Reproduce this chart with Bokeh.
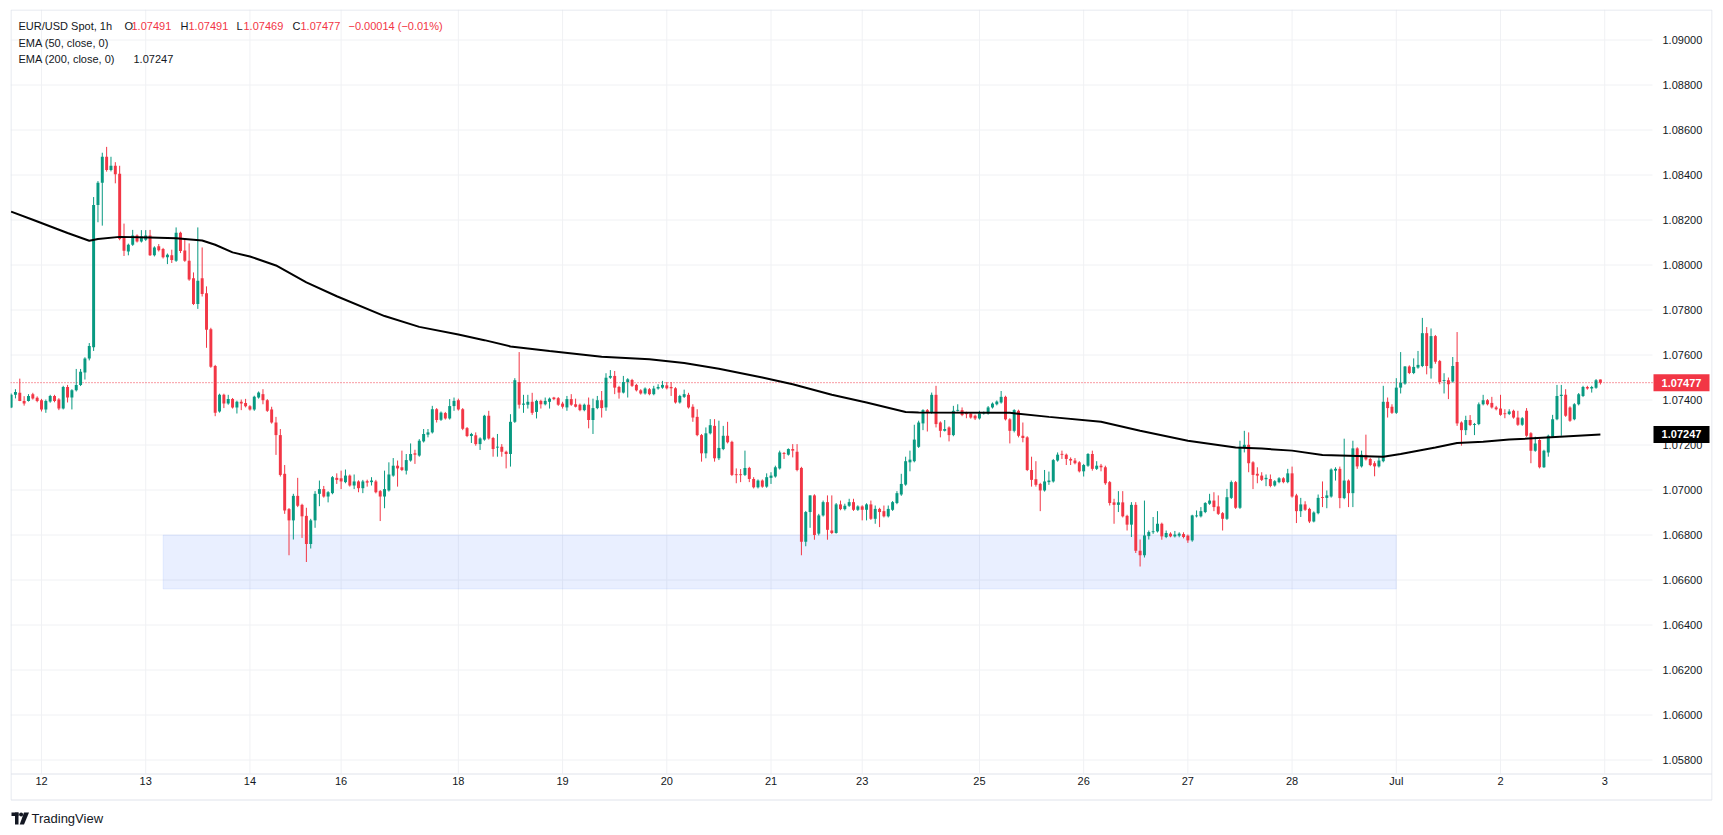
from bokeh.plotting import figure
from bokeh.models import Label, Range1d, ColumnDataSource
from bokeh.core.properties import value
from bokeh.embed import file_html
from bokeh.resources import INLINE

# ---------------- data (EUR/USD 1h candles: open, high, low, close) ----------------
jun11 = [
(1.07367, 1.07429, 1.07364, 1.07423), (1.07423, 1.07448, 1.07407, 1.07436),
(1.07432, 1.07495, 1.07395, 1.07396), (1.07396, 1.07417, 1.07375, 1.07385),
(1.07396, 1.07426, 1.07393, 1.07418), (1.07426, 1.07432, 1.07402, 1.07407),
(1.07410, 1.07416, 1.07390, 1.07396)]
jun12 = [
(1.07399, 1.07405, 1.07349, 1.07358), (1.07358, 1.07402, 1.07343, 1.07396),
(1.07393, 1.07423, 1.07388, 1.07418), (1.07418, 1.07423, 1.07390, 1.07396),
(1.07402, 1.07408, 1.07355, 1.07362), (1.07362, 1.07463, 1.07358, 1.07458),
(1.07458, 1.07467, 1.07389, 1.07411), (1.07411, 1.07448, 1.07358, 1.07443),
(1.07443, 1.07538, 1.07438, 1.07467), (1.07467, 1.07538, 1.07462, 1.07526),
(1.07522, 1.07590, 1.07491, 1.07585), (1.07585, 1.07653, 1.07576, 1.07640),
(1.07635, 1.08302, 1.07618, 1.08267), (1.08267, 1.08373, 1.08190, 1.08366),
(1.08366, 1.08499, 1.08175, 1.08481), (1.08481, 1.08525, 1.08415, 1.08422),
(1.08422, 1.08481, 1.08416, 1.08441), (1.08441, 1.08457, 1.08363, 1.08403),
(1.08406, 1.08441, 1.08110, 1.08116), (1.08122, 1.08184, 1.08040, 1.08063),
(1.08060, 1.08095, 1.08043, 1.08090), (1.08090, 1.08156, 1.08085, 1.08131),
(1.08131, 1.08136, 1.08100, 1.08105), (1.08105, 1.08155, 1.08100, 1.08127)]
jun13 = [
(1.08112, 1.08155, 1.08107, 1.08131), (1.08131, 1.08156, 1.08040, 1.08043),
(1.08043, 1.08083, 1.08038, 1.08078), (1.08083, 1.08093, 1.08060, 1.08066),
(1.08071, 1.08076, 1.08029, 1.08034), (1.08034, 1.08051, 1.08004, 1.08046),
(1.08043, 1.08068, 1.08009, 1.08022), (1.08019, 1.08167, 1.08014, 1.08143),
(1.08143, 1.08148, 1.08053, 1.08062), (1.08065, 1.08115, 1.08014, 1.08019),
(1.08019, 1.08096, 1.07930, 1.07936), (1.07941, 1.07967, 1.07822, 1.07827),
(1.07827, 1.08167, 1.07805, 1.07930), (1.07941, 1.08078, 1.07860, 1.07871),
(1.07874, 1.07905, 1.07632, 1.07712), (1.07715, 1.07721, 1.07543, 1.07548),
(1.07551, 1.07556, 1.07328, 1.07343), (1.07349, 1.07428, 1.07344, 1.07423),
(1.07423, 1.07428, 1.07364, 1.07384), (1.07384, 1.07423, 1.07379, 1.07404),
(1.07404, 1.07409, 1.07362, 1.07367), (1.07367, 1.07397, 1.07340, 1.07392),
(1.07392, 1.07402, 1.07355, 1.07384), (1.07387, 1.07405, 1.07367, 1.07372)]
jun14 = [
(1.07372, 1.07377, 1.07353, 1.07358), (1.07358, 1.07419, 1.07352, 1.07414),
(1.07411, 1.07438, 1.07406, 1.07433), (1.07426, 1.07448, 1.07381, 1.07399),
(1.07399, 1.07404, 1.07347, 1.07352), (1.07358, 1.07370, 1.07295, 1.07300),
(1.07300, 1.07325, 1.07156, 1.07244), (1.07244, 1.07271, 1.07060, 1.07067),
(1.07072, 1.07111, 1.06894, 1.06909), (1.06915, 1.06920, 1.06710, 1.06865),
(1.06865, 1.06983, 1.06780, 1.06974), (1.06974, 1.07054, 1.06924, 1.06930),
(1.06934, 1.06939, 1.06787, 1.06883), (1.06885, 1.06921, 1.06680, 1.06760),
(1.06760, 1.06872, 1.06740, 1.06865), (1.06865, 1.06995, 1.06832, 1.06983),
(1.06983, 1.07042, 1.06928, 1.07004), (1.07004, 1.07018, 1.06966, 1.06971),
(1.06971, 1.06995, 1.06945, 1.06990), (1.06986, 1.07062, 1.06981, 1.07057),
(1.07054, 1.07074, 1.07027, 1.07045)]
jun16 = [
(1.07052, 1.07086, 1.07004, 1.07038), (1.07035, 1.07091, 1.07030, 1.07064),
(1.07064, 1.07069, 1.07015, 1.07020)]
jun17 = [
(1.07020, 1.07069, 1.07004, 1.07038), (1.07038, 1.07043, 1.06990, 1.07008),
(1.07008, 1.07045, 1.06986, 1.07038), (1.07039, 1.07046, 1.07015, 1.07033),
(1.07035, 1.07057, 1.07020, 1.07042), (1.07038, 1.07045, 1.06985, 1.06990),
(1.06995, 1.07000, 1.06862, 1.06971), (1.06971, 1.07086, 1.06919, 1.07004),
(1.06998, 1.07123, 1.06993, 1.07069), (1.07064, 1.07142, 1.07059, 1.07108),
(1.07108, 1.07131, 1.07015, 1.07096), (1.07101, 1.07175, 1.07084, 1.07089),
(1.07086, 1.07160, 1.07069, 1.07133), (1.07131, 1.07207, 1.07126, 1.07160),
(1.07163, 1.07179, 1.07116, 1.07157), (1.07153, 1.07226, 1.07148, 1.07219),
(1.07216, 1.07271, 1.07211, 1.07249), (1.07246, 1.07271, 1.07234, 1.07256),
(1.07256, 1.07374, 1.07251, 1.07359), (1.07359, 1.07364, 1.07300, 1.07311),
(1.07312, 1.07349, 1.07307, 1.07344), (1.07342, 1.07347, 1.07313, 1.07318),
(1.07318, 1.07404, 1.07313, 1.07373), (1.07373, 1.07411, 1.07352, 1.07396)]
jun18 = [
(1.07399, 1.07406, 1.07353, 1.07358), (1.07359, 1.07364, 1.07266, 1.07272),
(1.07275, 1.07280, 1.07235, 1.07240), (1.07240, 1.07254, 1.07209, 1.07249),
(1.07243, 1.07256, 1.07197, 1.07204), (1.07204, 1.07234, 1.07178, 1.07229),
(1.07224, 1.07334, 1.07219, 1.07330), (1.07330, 1.07352, 1.07224, 1.07229),
(1.07231, 1.07236, 1.07148, 1.07182), (1.07189, 1.07249, 1.07148, 1.07192),
(1.07192, 1.07204, 1.07148, 1.07170), (1.07170, 1.07175, 1.07096, 1.07160),
(1.07160, 1.07337, 1.07104, 1.07303), (1.07303, 1.07497, 1.07298, 1.07488),
(1.07480, 1.07613, 1.07362, 1.07379), (1.07379, 1.07423, 1.07343, 1.07384),
(1.07379, 1.07423, 1.07362, 1.07392), (1.07392, 1.07432, 1.07334, 1.07343),
(1.07347, 1.07401, 1.07318, 1.07396), (1.07396, 1.07401, 1.07362, 1.07381),
(1.07381, 1.07411, 1.07376, 1.07396), (1.07392, 1.07411, 1.07362, 1.07406),
(1.07411, 1.07414, 1.07399, 1.07404), (1.07408, 1.07413, 1.07374, 1.07379)]
jun19 = [
(1.07384, 1.07392, 1.07362, 1.07370), (1.07367, 1.07418, 1.07352, 1.07404),
(1.07404, 1.07426, 1.07374, 1.07379), (1.07381, 1.07406, 1.07367, 1.07370),
(1.07379, 1.07384, 1.07350, 1.07355), (1.07355, 1.07384, 1.07350, 1.07379),
(1.07379, 1.07411, 1.07274, 1.07311), (1.07311, 1.07406, 1.07249, 1.07364),
(1.07364, 1.07418, 1.07359, 1.07399), (1.07399, 1.07440, 1.07322, 1.07364),
(1.07367, 1.07519, 1.07352, 1.07499), (1.07499, 1.07533, 1.07494, 1.07507),
(1.07507, 1.07529, 1.07426, 1.07455), (1.07458, 1.07463, 1.07406, 1.07433),
(1.07433, 1.07507, 1.07429, 1.07480), (1.07480, 1.07497, 1.07411, 1.07492),
(1.07489, 1.07494, 1.07458, 1.07463), (1.07467, 1.07472, 1.07438, 1.07443),
(1.07443, 1.07448, 1.07424, 1.07429), (1.07429, 1.07456, 1.07424, 1.07451),
(1.07448, 1.07453, 1.07421, 1.07426), (1.07426, 1.07463, 1.07421, 1.07451),
(1.07451, 1.07470, 1.07446, 1.07458), (1.07455, 1.07485, 1.07450, 1.07467)]
jun20 = [
(1.07465, 1.07480, 1.07447, 1.07452), (1.07458, 1.07480, 1.07418, 1.07452),
(1.07452, 1.07457, 1.07384, 1.07389), (1.07389, 1.07423, 1.07384, 1.07418),
(1.07414, 1.07446, 1.07409, 1.07426), (1.07423, 1.07432, 1.07362, 1.07367),
(1.07370, 1.07381, 1.07303, 1.07322), (1.07325, 1.07359, 1.07239, 1.07244),
(1.07244, 1.07249, 1.07126, 1.07163), (1.07163, 1.07278, 1.07141, 1.07252),
(1.07252, 1.07315, 1.07247, 1.07288), (1.07285, 1.07315, 1.07126, 1.07141),
(1.07141, 1.07308, 1.07133, 1.07187), (1.07182, 1.07285, 1.07177, 1.07241),
(1.07241, 1.07303, 1.07207, 1.07212), (1.07214, 1.07219, 1.07062, 1.07067),
(1.07069, 1.07096, 1.07030, 1.07067), (1.07069, 1.07093, 1.07035, 1.07067),
(1.07067, 1.07175, 1.07062, 1.07098), (1.07098, 1.07103, 1.07035, 1.07049),
(1.07049, 1.07057, 1.07007, 1.07012), (1.07012, 1.07047, 1.07007, 1.07042),
(1.07042, 1.07047, 1.07010, 1.07015), (1.07015, 1.07074, 1.07010, 1.07057)]
jun21 = [
(1.07054, 1.07079, 1.07027, 1.07064), (1.07060, 1.07108, 1.07055, 1.07101),
(1.07096, 1.07175, 1.07091, 1.07167), (1.07164, 1.07169, 1.07138, 1.07160),
(1.07157, 1.07185, 1.07153, 1.07182), (1.07182, 1.07204, 1.07145, 1.07175),
(1.07170, 1.07204, 1.07083, 1.07089), (1.07098, 1.07103, 1.06710, 1.06770),
(1.06770, 1.06907, 1.06750, 1.06902), (1.06902, 1.06976, 1.06832, 1.06976),
(1.06976, 1.06981, 1.06779, 1.06800), (1.06806, 1.06894, 1.06798, 1.06887),
(1.06887, 1.06953, 1.06882, 1.06946), (1.06946, 1.06976, 1.06779, 1.06823),
(1.06820, 1.06976, 1.06804, 1.06809), (1.06809, 1.06942, 1.06806, 1.06936),
(1.06936, 1.06953, 1.06910, 1.06915), (1.06915, 1.06939, 1.06909, 1.06930),
(1.06930, 1.06961, 1.06925, 1.06946), (1.06946, 1.06961, 1.06907, 1.06912),
(1.06912, 1.06932, 1.06907, 1.06927)]
jun23 = [
(1.06927, 1.06932, 1.06865, 1.06912), (1.06912, 1.06941, 1.06865, 1.06936),
(1.06936, 1.06953, 1.06867, 1.06872)]
jun24 = [
(1.06872, 1.06931, 1.06850, 1.06916), (1.06916, 1.06921, 1.06835, 1.06902),
(1.06906, 1.06931, 1.06878, 1.06883), (1.06883, 1.06931, 1.06878, 1.06916),
(1.06912, 1.06951, 1.06907, 1.06946), (1.06942, 1.06995, 1.06937, 1.06986),
(1.06980, 1.07072, 1.06974, 1.07027), (1.07024, 1.07148, 1.07019, 1.07128),
(1.07123, 1.07175, 1.07083, 1.07135), (1.07128, 1.07290, 1.07123, 1.07224),
(1.07192, 1.07308, 1.07187, 1.07300), (1.07296, 1.07359, 1.07266, 1.07355),
(1.07355, 1.07360, 1.07260, 1.07344), (1.07344, 1.07433, 1.07339, 1.07423),
(1.07423, 1.07463, 1.07278, 1.07293), (1.07300, 1.07305, 1.07234, 1.07263),
(1.07263, 1.07311, 1.07260, 1.07271), (1.07278, 1.07283, 1.07216, 1.07244),
(1.07244, 1.07374, 1.07239, 1.07352), (1.07352, 1.07381, 1.07349, 1.07356),
(1.07355, 1.07367, 1.07328, 1.07333), (1.07343, 1.07348, 1.07319, 1.07337),
(1.07340, 1.07344, 1.07317, 1.07322), (1.07330, 1.07335, 1.07311, 1.07318)]
jun25 = [
(1.07318, 1.07352, 1.07313, 1.07340), (1.07340, 1.07349, 1.07335, 1.07344),
(1.07340, 1.07373, 1.07335, 1.07367), (1.07367, 1.07389, 1.07362, 1.07384),
(1.07381, 1.07398, 1.07376, 1.07393), (1.07389, 1.07440, 1.07384, 1.07414),
(1.07414, 1.07419, 1.07309, 1.07314), (1.07314, 1.07319, 1.07207, 1.07263),
(1.07263, 1.07359, 1.07256, 1.07355), (1.07352, 1.07357, 1.07234, 1.07241),
(1.07241, 1.07300, 1.07212, 1.07231), (1.07234, 1.07239, 1.07084, 1.07089),
(1.07089, 1.07148, 1.07015, 1.07045), (1.07048, 1.07128, 1.07015, 1.07023),
(1.07027, 1.07032, 1.06906, 1.06998), (1.06998, 1.07089, 1.06993, 1.07038),
(1.07035, 1.07082, 1.07023, 1.07042), (1.07038, 1.07138, 1.07033, 1.07133),
(1.07131, 1.07167, 1.07126, 1.07157), (1.07160, 1.07175, 1.07138, 1.07157),
(1.07157, 1.07162, 1.07111, 1.07138), (1.07138, 1.07145, 1.07111, 1.07131),
(1.07131, 1.07142, 1.07114, 1.07119), (1.07123, 1.07128, 1.07078, 1.07083)]
jun26 = [
(1.07083, 1.07116, 1.07060, 1.07111), (1.07108, 1.07164, 1.07103, 1.07160),
(1.07160, 1.07175, 1.07086, 1.07094), (1.07094, 1.07128, 1.07089, 1.07108),
(1.07108, 1.07116, 1.07083, 1.07101), (1.07101, 1.07108, 1.07023, 1.07030),
(1.07035, 1.07040, 1.06931, 1.06942), (1.06945, 1.06961, 1.06850, 1.06934),
(1.06934, 1.06995, 1.06902, 1.06945), (1.06945, 1.06995, 1.06878, 1.06883),
(1.06885, 1.06890, 1.06820, 1.06846), (1.06846, 1.06946, 1.06791, 1.06934),
(1.06934, 1.06946, 1.06720, 1.06730), (1.06730, 1.06780, 1.06660, 1.06710),
(1.06710, 1.06953, 1.06700, 1.06798), (1.06795, 1.06820, 1.06780, 1.06813),
(1.06813, 1.06880, 1.06805, 1.06816), (1.06816, 1.06906, 1.06811, 1.06850),
(1.06850, 1.06855, 1.06779, 1.06794), (1.06791, 1.06820, 1.06786, 1.06809),
(1.06806, 1.06812, 1.06790, 1.06794), (1.06794, 1.06818, 1.06789, 1.06802),
(1.06797, 1.06812, 1.06790, 1.06806), (1.06804, 1.06812, 1.06785, 1.06791)]
jun27 = [
(1.06797, 1.06802, 1.06765, 1.06776), (1.06776, 1.06890, 1.06770, 1.06887),
(1.06883, 1.06909, 1.06878, 1.06887), (1.06883, 1.06924, 1.06878, 1.06906),
(1.06902, 1.06946, 1.06897, 1.06942), (1.06939, 1.06983, 1.06934, 1.06953),
(1.06953, 1.06990, 1.06906, 1.06924), (1.06927, 1.06976, 1.06889, 1.06894),
(1.06897, 1.06902, 1.06820, 1.06872), (1.06872, 1.07005, 1.06867, 1.06968),
(1.06965, 1.07042, 1.06960, 1.07035), (1.07035, 1.07040, 1.06916, 1.06921),
(1.06921, 1.07219, 1.06916, 1.07192), (1.07189, 1.07263, 1.07167, 1.07201),
(1.07201, 1.07256, 1.07079, 1.07119), (1.07123, 1.07128, 1.07004, 1.07067),
(1.07072, 1.07101, 1.07030, 1.07064), (1.07064, 1.07079, 1.07040, 1.07045),
(1.07048, 1.07069, 1.07017, 1.07054), (1.07049, 1.07069, 1.07012, 1.07018),
(1.07020, 1.07044, 1.07015, 1.07039), (1.07035, 1.07057, 1.07030, 1.07052),
(1.07052, 1.07057, 1.07030, 1.07035), (1.07035, 1.07094, 1.07030, 1.07074)]
jun28 = [
(1.07074, 1.07104, 1.06966, 1.06971), (1.06976, 1.06983, 1.06853, 1.06906),
(1.06906, 1.06965, 1.06880, 1.06936), (1.06936, 1.06950, 1.06907, 1.06912),
(1.06916, 1.06921, 1.06853, 1.06860), (1.06860, 1.06905, 1.06856, 1.06900),
(1.06897, 1.06980, 1.06892, 1.06965), (1.06968, 1.07038, 1.06924, 1.06965),
(1.06965, 1.06998, 1.06919, 1.06976), (1.06971, 1.07096, 1.06966, 1.07091),
(1.07086, 1.07101, 1.07042, 1.07094), (1.07094, 1.07104, 1.06919, 1.06964),
(1.06964, 1.07228, 1.06959, 1.07042), (1.07042, 1.07047, 1.06924, 1.06986),
(1.06986, 1.07219, 1.06924, 1.07185), (1.07185, 1.07190, 1.07094, 1.07105),
(1.07105, 1.07175, 1.07100, 1.07157), (1.07156, 1.07246, 1.07131, 1.07136),
(1.07138, 1.07143, 1.07106, 1.07111), (1.07119, 1.07128, 1.07061, 1.07105),
(1.07105, 1.07145, 1.07100, 1.07131)]
jun30 = [
(1.07128, 1.07463, 1.07123, 1.07392), (1.07392, 1.07411, 1.07322, 1.07364),
(1.07370, 1.07381, 1.07338, 1.07343)]
jul01 = [
(1.07343, 1.07497, 1.07338, 1.07455), (1.07455, 1.07613, 1.07429, 1.07477),
(1.07473, 1.07551, 1.07468, 1.07549), (1.07549, 1.07554, 1.07515, 1.07520),
(1.07520, 1.07585, 1.07515, 1.07547), (1.07544, 1.07618, 1.07539, 1.07556),
(1.07551, 1.07765, 1.07546, 1.07697), (1.07697, 1.07724, 1.07514, 1.07551),
(1.07541, 1.07718, 1.07495, 1.07684), (1.07684, 1.07689, 1.07561, 1.07570),
(1.07573, 1.07578, 1.07470, 1.07480), (1.07485, 1.07519, 1.07429, 1.07488),
(1.07488, 1.07500, 1.07404, 1.07470), (1.07482, 1.07591, 1.07477, 1.07551),
(1.07569, 1.07702, 1.07285, 1.07296), (1.07300, 1.07305, 1.07197, 1.07266),
(1.07266, 1.07330, 1.07244, 1.07311), (1.07311, 1.07333, 1.07284, 1.07289),
(1.07289, 1.07298, 1.07244, 1.07293), (1.07293, 1.07389, 1.07288, 1.07381),
(1.07381, 1.07423, 1.07376, 1.07399), (1.07399, 1.07404, 1.07376, 1.07381),
(1.07387, 1.07414, 1.07362, 1.07367), (1.07367, 1.07374, 1.07354, 1.07359)]
jul02 = [
(1.07362, 1.07423, 1.07330, 1.07334), (1.07340, 1.07359, 1.07319, 1.07338),
(1.07338, 1.07359, 1.07333, 1.07349), (1.07352, 1.07357, 1.07317, 1.07322),
(1.07322, 1.07352, 1.07285, 1.07290), (1.07290, 1.07324, 1.07285, 1.07319),
(1.07352, 1.07364, 1.07236, 1.07241), (1.07252, 1.07257, 1.07119, 1.07175),
(1.07175, 1.07237, 1.07170, 1.07207), (1.07222, 1.07227, 1.07096, 1.07101),
(1.07101, 1.07179, 1.07098, 1.07175), (1.07167, 1.07246, 1.07148, 1.07241),
(1.07237, 1.07334, 1.07232, 1.07315), (1.07315, 1.07467, 1.07310, 1.07418),
(1.07418, 1.07467, 1.07241, 1.07423), (1.07423, 1.07448, 1.07325, 1.07330),
(1.07367, 1.07372, 1.07303, 1.07308), (1.07315, 1.07386, 1.07310, 1.07381),
(1.07381, 1.07431, 1.07376, 1.07426), (1.07418, 1.07463, 1.07413, 1.07458),
(1.07458, 1.07463, 1.07446, 1.07451), (1.07451, 1.07463, 1.07433, 1.07458),
(1.07455, 1.07493, 1.07450, 1.07488), (1.07491, 1.07491, 1.07469, 1.07477)]

# EMA(200): bar index -> value
ema_idx = [-7, -2, 6, 11, 13, 18, 25, 31, 37, 40, 44, 48, 54, 61, 68, 79, 87, 96, 102,
           108, 117, 129, 140, 148, 156, 166, 173, 182, 190, 199, 202, 223, 232, 244,
           253, 264, 275, 281, 288, 295, 309, 313, 321, 326, 332, 338, 359]
ema_val = [1.08237, 1.08201, 1.08142, 1.08108, 1.08116, 1.08125, 1.08122, 1.08119,
           1.08109, 1.08090, 1.08056, 1.08038, 1.07998, 1.07923, 1.07861, 1.07773,
           1.07725, 1.07691, 1.07666, 1.07638, 1.07618, 1.07592, 1.07581, 1.07564,
           1.07539, 1.07500, 1.07470, 1.07423, 1.07389, 1.07347, 1.07344, 1.07343,
           1.07325, 1.07303, 1.07263, 1.07219, 1.07189, 1.07184, 1.07175, 1.07156,
           1.07148, 1.07160, 1.07189, 1.07209, 1.07214, 1.07224, 1.07247]

# support zone drawn on the chart
zone_left = [28]
zone_right = [312]
zone_top = [1.0680]
zone_bottom = [1.0656]

last_price = 1.07477
ema_last = 1.07247

x_tick_idx = [0, 24, 48, 69, 96, 120, 144, 168, 189, 216, 240, 264, 288, 312, 336, 360]
x_tick_lbl = ["12", "13", "14", "16", "18", "19", "20", "21", "23", "25", "26", "27",
              "28", "Jul", "2", "3"]
price_ticks = [1.058, 1.060, 1.062, 1.064, 1.066, 1.068, 1.070, 1.072, 1.074, 1.076,
               1.078, 1.080, 1.082, 1.084, 1.086, 1.088, 1.090]

# ---------------- build ----------------
days = [jun11, jun12, jun13, jun14, jun16, jun17, jun18, jun19, jun20, jun21, jun23,
        jun24, jun25, jun26, jun27, jun28, jun30, jul01, jul02]
rows = [c for d in days for c in d]
FIRST = -7
idx = list(range(FIRST, FIRST + len(rows)))
opens = [r[0] for r in rows]
highs = [r[1] for r in rows]
lows = [r[2] for r in rows]
closes = [r[3] for r in rows]

GREEN = "#089981"
RED = "#F23645"
TXT = "#131722"
GRID = "#F0F1F4"
BORDER = "#E0E3EB"
FONT = "Liberation Sans"

colors = [GREEN if c >= o else RED for o, c in zip(opens, closes)]
btop, bbot = [], []
for o, c in zip(opens, closes):
    t, b = max(o, c), min(o, c)
    if t - b < 0.00004:
        m = (t + b) / 2
        t, b = m + 0.00002, m - 0.00002
    btop.append(t)
    bbot.append(b)
hi = [max(h, t) for h, t in zip(highs, btop)]
lo = [min(l, b) for l, b in zip(lows, bbot)]
src = ColumnDataSource(dict(x=idx, top=btop, bottom=bbot, hi=hi, lo=lo, color=colors))

# The frame covers the whole widget (page px 10..1712 x 9..832); pane, price scale,
# time scale and footer are laid out inside it.
PX_PER_BAR = 1642 / 378.14
X_START = -7.14
FRAME_W, FRAME_H = 1702, 823
X_END = X_START + FRAME_W / PX_PER_BAR
Y_PER_PX = 0.002 / 45.0
Y_TOP = 1.074 + (399.5 - 9) * Y_PER_PX
Y_BOT = Y_TOP - FRAME_H * Y_PER_PX


def sx(px):
    return X_START + (px - 10) / PX_PER_BAR


def sy(py):
    return Y_TOP - (py - 9) * Y_PER_PX


PANE_RIGHT = sx(1652)
PANE_BOTTOM = sy(773)

p = figure(width=1720, height=832, x_range=Range1d(X_START, X_END),
           y_range=Range1d(Y_BOT, Y_TOP), x_axis_location=None, y_axis_location=None,
           output_backend="svg", toolbar_location=None,
           min_border_left=10, min_border_right=8, min_border_top=9, min_border_bottom=0,
           background_fill_color="white", border_fill_color="white")
p.outline_line_color = None
p.xgrid.visible = False
p.ygrid.visible = False

# grid
n_t = len(x_tick_idx)
p.segment(x0=x_tick_idx, x1=x_tick_idx, y0=[PANE_BOTTOM] * n_t, y1=[Y_TOP] * n_t,
          line_color=GRID, line_width=1)
n_p = len(price_ticks)
p.segment(x0=[X_START] * n_p, x1=[PANE_RIGHT] * n_p, y0=price_ticks, y1=price_ticks,
          line_color=GRID, line_width=1)

# widget borders and time-scale separator
bx0, bx1 = sx(10.5), sx(1711.5)
p.segment(x0=[bx0, bx0, bx1, bx0, bx0], x1=[bx1, bx0, bx1, bx1, bx1],
          y0=[sy(9.5), sy(9.5), sy(9.5), sy(773.5), sy(799.5)],
          y1=[sy(9.5), sy(799.5), sy(799.5), sy(773.5), sy(799.5)],
          line_color=BORDER, line_width=1)

p.quad(left=zone_left, right=zone_right, top=zone_top, bottom=zone_bottom,
       fill_color="#2962FF", fill_alpha=0.1, line_color="#2962FF", line_alpha=0.08)

# last-price dotted line
p.segment(x0=[X_START], x1=[PANE_RIGHT], y0=[last_price], y1=[last_price],
          line_color=RED, line_dash="1 2", line_width=1)

p.segment(x0="x", y0="lo", x1="x", y1="hi", line_color="color", line_width=1, source=src)
p.vbar(x="x", width=0.68, top="top", bottom="bottom", fill_color="color",
       line_color=None, source=src)

p.line(ema_idx, ema_val, line_color="#000000", line_width=2)

# time scale labels
p.text(x=x_tick_idx, y=[sy(780)] * n_t, text=x_tick_lbl, text_font=value(FONT),
       text_font_size=value("11px"), text_color=TXT, text_baseline="middle",
       text_align="center")

# price scale labels
p.text(x=[sx(1662)] * n_p, y=price_ticks, text=["%.5f" % t for t in price_ticks],
       text_font=value(FONT), text_font_size=value("11px"), text_color=TXT,
       text_baseline="middle", text_align="left")

# price boxes on the scale
box_vals = [last_price, ema_last]
box_cols = [RED, "#000000"]
half = 8.5 * Y_PER_PX
p.quad(left=[sx(1653)] * 2, right=[sx(1709)] * 2, top=[v + half for v in box_vals],
       bottom=[v - half for v in box_vals], fill_color=box_cols, line_color=None)
p.text(x=[sx(1681)] * 2, y=box_vals, text=["%.5f" % v for v in box_vals],
       text_font=value(FONT), text_font_size=value("11px"), text_font_style="bold",
       text_color="white", text_baseline="middle", text_align="center")


# ---- legend texts ----
def add_text(px, py, text, color=TXT, size="11px", style="normal"):
    p.add_layout(Label(x=sx(px), y=sy(py), text=text, text_color=color,
                       text_font=FONT, text_font_size=size, text_font_style=style,
                       text_baseline="middle", text_align="left"))


add_text(18, 25, "EUR/USD Spot, 1h")
for px, t, c in [(124, "O", TXT), (131, "1.07491", RED), (180, "H", TXT), (188, "1.07491", RED),
                 (236, "L", TXT), (243, "1.07469", RED), (292, "C", TXT), (300, "1.07477", RED),
                 (348, "\u22120.00014 (\u22120.01%)", RED)]:
    add_text(px, 25, t, c)
add_text(18, 42, "EMA (50, close, 0)")
add_text(18, 58, "EMA (200, close, 0)")
add_text(133, 58, "1.07247", TXT)

# footer: TradingView mark + name
p.quad(left=[sx(11), sx(14.5)], right=[sx(18), sx(18)], top=[sy(812), sy(812)],
       bottom=[sy(815.5), sy(824)], fill_color=TXT, line_color=None)
p.scatter(x=[sx(20.6)], y=[sy(814)], size=4, marker="circle", fill_color=TXT, line_color=None)
p.patch(x=[sx(23.5), sx(28.5), sx(23.5), sx(19.2)], y=[sy(812), sy(812), sy(824), sy(824)],
        fill_color=TXT, line_color=None)
add_text(31, 818, "TradingView", TXT, "13px")

open("out.html", "w").write(file_html(p, INLINE))
